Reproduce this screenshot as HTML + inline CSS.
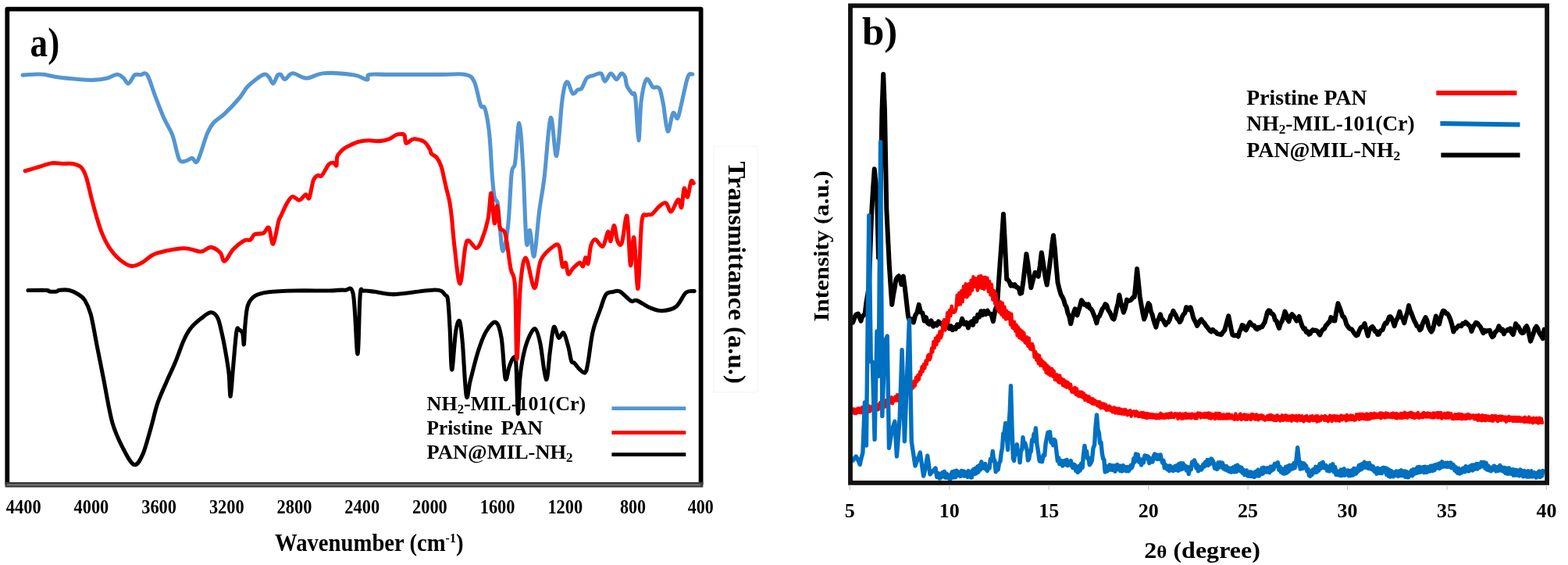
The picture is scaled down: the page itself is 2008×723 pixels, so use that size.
<!DOCTYPE html>
<html><head><meta charset="utf-8"><title>FTIR and XRD</title>
<style>html,body{margin:0;padding:0;background:#fff;} body{width:2008px;height:723px;position:relative;overflow:hidden;}</style>
</head><body>
<svg width="2008" height="723" viewBox="0 0 2008 723" style="position:absolute;left:0;top:0" font-family='"Liberation Serif", "Times New Roman", serif' font-weight="bold">
<rect x="0" y="0" width="2008" height="723" fill="#fff"/>
<rect x="914" y="187" width="56" height="315" fill="none" stroke="#f6f6f6" stroke-width="1.2"/>
<path d="M29.0,96.1 C31.4,95.9 38.8,95.3 43.3,95.2 C47.8,95.1 50.7,94.6 55.8,95.2 C60.9,95.8 66.3,97.8 73.8,98.8 C81.3,99.8 93.1,100.9 100.6,101.5 C108.1,102.1 112.6,102.6 118.6,102.4 C124.6,102.2 131.3,101.4 136.5,100.2 C141.7,99.0 146.3,95.3 149.9,95.2 C153.5,95.1 155.5,97.8 158.0,99.7 C160.5,101.7 162.3,107.5 164.7,106.9 C167.1,106.3 169.8,97.9 172.3,96.1 C174.9,94.2 177.3,95.9 180.0,95.8 C182.7,95.7 185.3,91.1 188.5,95.7 C191.7,100.3 195.4,114.3 199.0,123.6 C202.6,132.9 206.3,143.0 210.0,151.3 C213.7,159.6 217.8,164.7 221.0,173.4 C224.2,182.2 226.7,198.4 229.5,203.8 C232.3,209.2 235.1,206.2 237.8,206.0 C240.6,205.8 243.5,202.4 246.0,202.4 C248.5,202.4 249.8,211.3 253.0,206.0 C256.2,200.7 262.0,178.8 265.5,170.6 C269.0,162.4 270.1,161.0 273.8,156.8 C277.5,152.7 282.1,151.0 287.6,145.7 C293.1,140.4 301.9,131.0 307.0,125.0 C312.1,119.0 312.9,114.7 318.0,109.8 C323.1,104.9 333.0,97.2 337.4,95.4 C341.8,93.6 342.2,96.8 344.3,98.7 C346.4,100.6 348.0,107.4 349.8,107.0 C351.6,106.6 353.8,98.4 355.4,96.5 C357.0,94.6 357.9,94.6 359.5,95.4 C361.1,96.2 362.5,101.8 365.0,101.5 C367.5,101.2 370.1,94.0 374.7,93.7 C379.3,93.5 386.0,100.0 392.7,100.0 C399.4,100.0 404.7,94.4 414.8,93.7 C424.9,93.0 444.3,94.6 453.5,96.0 C462.7,97.4 466.8,102.1 470.0,102.0 C473.2,101.9 468.0,96.5 473.0,95.4 C478.0,94.3 484.6,95.4 500.0,95.4 C515.5,95.4 549.7,95.4 565.7,95.4 C581.7,95.4 589.1,93.9 596.0,95.4 C602.9,96.9 604.0,97.7 607.2,104.2 C610.5,110.8 613.2,128.9 615.5,134.7 C617.8,140.5 619.1,132.8 621.0,138.8 C622.9,144.8 625.0,155.8 626.6,170.6 C628.2,185.4 629.4,213.9 630.5,227.6 C631.6,241.2 632.1,247.0 633.2,252.5 C634.4,258.0 636.2,254.4 637.4,260.8 C638.6,267.2 639.1,281.1 640.2,291.2 C641.3,301.3 642.4,321.8 644.1,321.3 C645.9,320.8 648.9,304.6 650.7,288.0 C652.6,271.4 653.7,235.0 655.2,221.7 C656.7,208.4 658.0,219.1 659.6,208.4 C661.2,197.7 663.2,156.8 664.9,157.5 C666.6,158.2 668.2,187.4 669.8,212.8 C671.3,238.2 672.7,296.6 674.2,310.2 C675.7,323.8 677.0,291.8 678.6,294.7 C680.2,297.6 682.0,331.9 684.0,327.9 C686.0,323.8 688.4,287.4 690.6,270.4 C692.8,253.4 694.8,246.0 697.2,226.1 C699.6,206.2 702.6,155.2 705.2,150.8 C707.8,146.4 710.3,202.4 712.7,199.5 C715.1,196.6 717.6,148.0 719.4,133.1 C721.1,118.2 721.9,114.5 723.2,109.9 C724.5,105.3 725.6,104.1 727.3,105.7 C729.0,107.3 731.4,118.3 733.5,119.8 C735.6,121.3 737.9,116.0 739.8,114.9 C741.7,113.8 742.8,115.7 744.8,113.2 C746.8,110.7 749.0,102.7 751.5,99.9 C754.0,97.1 756.8,97.6 759.8,96.6 C762.8,95.6 767.2,92.8 769.7,94.1 C772.2,95.3 772.6,104.1 774.7,104.1 C776.8,104.1 779.6,94.5 782.1,94.1 C784.6,93.7 787.4,101.6 789.6,101.6 C791.8,101.6 793.6,94.6 795.4,94.1 C797.2,93.5 799.1,95.7 800.4,98.3 C801.6,100.9 801.4,106.3 802.9,109.9 C804.4,113.5 807.7,117.3 809.5,119.8 C811.3,122.3 812.3,114.8 813.7,124.8 C815.1,134.8 816.6,178.8 817.8,179.6 C819.0,180.4 819.4,142.8 821.1,129.8 C822.8,116.8 825.3,104.6 827.8,101.6 C830.3,98.5 833.8,109.8 836.0,111.5 C838.2,113.2 839.5,110.9 841.0,111.5 C842.5,112.1 843.8,111.3 845.2,114.9 C846.6,118.5 847.7,124.2 849.4,133.1 C851.1,141.9 853.1,166.1 855.2,168.0 C857.3,169.9 859.7,147.5 861.8,144.7 C863.9,141.9 865.8,153.3 867.6,151.4 C869.4,149.5 870.4,141.9 872.6,133.1 C874.8,124.2 878.5,104.6 880.9,98.3 C883.2,92.0 885.7,95.5 886.7,95.0" fill="none" stroke="#5495D2" stroke-width="5.1" stroke-linejoin="round" stroke-linecap="round"/>
<path d="M36.0,371.5 C40.0,371.5 55.4,371.2 60.0,371.5 C64.6,371.8 61.4,372.8 63.5,373.0 C65.6,373.2 70.4,373.3 72.5,373.0 C74.6,372.7 73.4,371.6 76.0,371.3 C78.6,371.0 84.0,370.4 88.0,371.3 C92.0,372.2 96.6,374.4 100.0,376.5 C103.4,378.6 105.8,379.7 108.5,384.0 C111.2,388.3 113.5,392.2 116.2,402.1 C118.9,412.0 121.7,429.7 124.4,443.6 C127.2,457.5 129.5,469.1 132.7,485.3 C135.9,501.5 139.7,525.9 143.8,540.6 C148.0,555.4 153.0,564.8 157.6,573.8 C162.2,582.8 167.3,593.1 171.5,594.5 C175.7,595.9 178.8,590.1 182.5,582.1 C186.2,574.1 190.4,557.3 193.6,546.2 C196.8,535.1 198.6,525.3 201.9,515.7 C205.2,506.1 209.6,497.0 213.3,488.4 C217.0,479.8 220.6,472.9 224.3,464.0 C228.0,455.1 232.1,442.7 235.4,435.3 C238.7,427.9 240.6,424.4 244.3,419.8 C248.0,415.2 253.3,410.9 257.5,407.6 C261.7,404.3 266.2,400.0 269.7,399.8 C273.2,399.6 276.2,402.1 278.6,406.5 C281.0,410.9 282.5,419.4 284.1,426.4 C285.8,433.4 287.0,440.0 288.5,448.5 C290.0,457.0 291.9,467.5 293.0,477.3 C294.1,487.1 294.3,508.3 295.2,507.2 C296.1,506.1 297.2,484.5 298.5,470.7 C299.8,456.9 301.6,432.3 302.9,424.2 C304.2,416.1 304.9,421.6 306.2,422.0 C307.5,422.4 309.7,423.3 310.7,426.4 C311.7,429.5 311.8,442.6 312.4,440.8 C312.9,439.0 313.2,423.6 314.0,415.3 C314.8,407.0 315.3,397.1 317.3,391.0 C319.3,384.9 321.8,381.7 326.2,378.8 C330.6,375.9 335.4,374.9 343.9,373.8 C352.4,372.7 364.2,372.3 377.1,372.0 C390.0,371.7 410.6,372.1 421.3,372.0 C432.0,371.9 436.1,370.5 441.3,371.3 C446.5,372.1 449.5,363.0 452.3,376.6 C455.1,390.2 456.4,452.8 457.9,453.0 C459.4,453.2 459.9,391.2 461.2,377.7 C462.5,364.2 462.5,372.9 465.6,372.2 C468.7,371.5 473.4,372.6 480.0,373.3 C486.6,374.0 492.0,377.0 504.9,376.6 C517.8,376.2 546.5,370.9 557.4,371.0 C568.2,371.1 567.3,375.1 570.0,377.4 C572.7,379.7 572.7,377.4 573.7,384.9 C574.7,392.4 575.4,407.5 576.2,422.2 C577.0,436.9 577.5,472.8 578.7,473.2 C579.9,473.6 582.0,435.1 583.6,424.7 C585.2,414.3 587.1,408.5 588.6,411.0 C590.1,413.5 591.0,423.6 592.4,439.6 C593.8,455.6 595.6,498.9 597.3,506.8 C598.9,514.7 599.8,496.4 602.3,486.9 C604.8,477.4 609.0,460.0 612.3,449.6 C615.6,439.2 618.5,430.9 622.2,424.7 C625.9,418.5 631.4,411.1 634.7,412.3 C638.0,413.6 640.0,420.2 642.1,432.2 C644.2,444.2 645.4,478.2 647.1,484.4 C648.8,490.6 650.4,473.9 652.1,469.5 C653.8,465.1 655.7,459.1 657.1,458.3 C658.5,457.5 659.8,452.7 660.8,464.5 C661.8,476.3 662.5,525.9 663.3,529.2 C664.1,532.5 664.5,497.2 665.8,484.4 C667.0,471.5 668.7,461.2 670.8,452.1 C672.9,443.0 675.7,434.9 678.2,429.7 C680.7,424.5 683.4,419.4 685.7,421.0 C688.0,422.6 689.6,428.8 691.9,439.6 C694.2,450.4 697.3,484.0 699.4,485.7 C701.5,487.4 702.8,460.8 704.4,449.6 C706.0,438.4 707.4,421.4 709.3,418.5 C711.1,415.6 713.4,430.9 715.5,432.2 C717.6,433.4 719.7,423.9 721.8,426.0 C723.9,428.1 726.4,438.6 728.0,444.6 C729.6,450.6 730.5,458.7 731.7,462.0 C733.0,465.3 733.8,462.8 735.5,464.5 C737.2,466.2 739.4,469.9 741.7,472.0 C744.0,474.1 747.2,478.2 749.1,477.0 C751.0,475.8 751.2,473.2 752.9,464.5 C754.6,455.8 756.5,436.1 759.1,424.7 C761.7,413.3 765.9,403.9 768.7,396.0 C771.5,388.1 773.2,380.8 775.9,377.0 C778.6,373.2 782.0,374.2 785.0,373.5 C788.0,372.8 789.9,371.1 793.8,373.0 C797.7,374.9 804.6,383.3 808.2,385.2 C811.8,387.1 811.2,383.0 815.4,384.5 C819.6,386.0 828.0,392.0 833.4,394.2 C838.8,396.4 842.4,398.1 847.8,397.8 C853.2,397.5 860.7,396.3 865.8,392.4 C870.9,388.5 874.5,377.7 878.4,374.4 C882.3,371.1 887.4,372.9 889.2,372.6" fill="none" stroke="#000" stroke-width="5.1" stroke-linejoin="round" stroke-linecap="round"/>
<path d="M32.2,218.8 C35.2,217.9 44.3,215.2 50.0,213.5 C55.7,211.8 61.5,209.5 66.5,208.8 C71.5,208.1 75.6,209.4 80.0,209.5 C84.4,209.6 89.0,208.7 93.0,209.5 C97.0,210.3 101.1,211.3 104.1,214.3 C107.0,217.3 108.5,220.9 110.7,227.6 C112.9,234.2 115.1,245.7 117.3,254.2 C119.5,262.7 121.8,271.1 124.0,278.5 C126.2,285.9 128.0,292.1 130.6,298.4 C133.2,304.7 135.8,310.6 139.5,316.1 C143.2,321.6 147.9,327.6 152.7,331.6 C157.5,335.7 163.2,339.7 168.2,340.4 C173.2,341.1 177.3,338.3 182.5,335.7 C187.7,333.1 190.3,327.7 199.1,324.7 C207.8,321.7 225.3,318.2 235.0,317.8 C244.7,317.4 251.4,322.2 257.2,322.0 C263.0,321.8 265.5,316.2 269.6,316.4 C273.7,316.6 279.0,320.3 282.0,323.3 C285.0,326.3 284.8,335.0 287.6,334.3 C290.4,333.6 294.6,323.5 298.7,319.1 C302.8,314.7 308.8,310.1 312.5,308.0 C316.2,305.9 318.5,308.1 320.8,306.7 C323.1,305.3 323.5,301.2 326.3,299.8 C329.1,298.4 334.4,299.8 337.4,298.4 C340.4,297.0 342.2,289.2 344.3,291.5 C346.4,293.8 347.7,313.6 349.8,312.2 C351.9,310.8 355.0,289.3 356.7,283.2 C358.4,277.1 358.2,279.6 360.0,275.8 C361.8,272.0 364.8,264.6 367.2,260.6 C369.6,256.6 371.7,252.3 374.4,251.6 C377.1,250.8 380.5,256.6 383.4,256.1 C386.2,255.7 389.4,249.4 391.5,248.9 C393.6,248.4 394.4,256.4 396.0,253.4 C397.6,250.4 399.5,235.7 401.3,230.9 C403.1,226.1 404.9,225.7 406.7,224.6 C408.5,223.5 409.7,227.0 412.1,224.6 C414.5,222.2 418.6,212.9 421.1,210.2 C423.7,207.5 425.8,208.1 427.4,208.4 C429.0,208.7 430.2,213.3 431.0,212.0 C431.8,210.7 430.5,203.8 431.9,200.3 C433.2,196.9 436.4,193.7 439.1,191.3 C441.8,188.9 444.8,187.6 448.1,186.0 C451.4,184.4 455.0,182.6 458.9,181.5 C462.8,180.4 467.0,179.8 471.5,179.7 C476.0,179.5 481.3,180.9 485.8,180.6 C490.3,180.3 494.8,179.2 498.4,177.9 C502.0,176.6 504.7,173.6 507.4,172.5 C510.1,171.4 512.8,171.4 514.6,171.6 C516.4,171.8 517.3,171.4 518.2,173.4 C519.1,175.4 518.5,182.4 520.0,183.3 C521.5,184.2 525.1,179.7 527.2,178.8 C529.3,177.9 529.9,177.5 532.6,177.9 C535.3,178.3 540.4,179.3 543.4,181.5 C546.4,183.7 549.1,188.8 550.6,191.3 C552.1,193.8 550.9,194.9 552.4,196.7 C553.9,198.5 557.5,199.4 559.6,202.1 C561.7,204.8 563.5,208.7 565.0,212.9 C566.5,217.1 567.5,222.8 568.5,227.3 C569.5,231.8 570.1,234.8 571.3,239.9 C572.5,245.0 574.5,251.6 575.7,257.9 C576.9,264.2 577.3,267.9 578.4,277.6 C579.5,287.3 580.3,301.9 582.1,316.1 C583.9,330.4 586.7,363.1 589.0,363.1 C591.3,363.1 594.0,325.3 595.9,316.1 C597.8,306.9 597.8,307.6 600.1,307.8 C602.4,308.0 607.0,317.5 609.8,317.5 C612.6,317.5 614.2,314.0 616.7,307.8 C619.2,301.6 622.9,290.3 625.0,280.2 C627.1,270.1 627.7,246.1 629.1,247.0 C630.5,247.9 631.9,282.9 633.2,285.7 C634.5,288.5 635.6,262.7 636.8,263.6 C638.0,264.5 638.5,285.2 640.2,291.2 C641.9,297.2 644.8,290.8 647.1,299.5 C649.4,308.2 651.9,332.6 654.0,343.7 C656.1,354.8 658.2,346.4 659.5,365.8 C660.8,385.2 660.9,460.0 662.0,460.0 C663.1,460.0 664.5,387.5 666.4,365.8 C668.3,344.1 670.3,329.4 673.3,329.9 C676.3,330.4 681.2,368.1 684.4,368.6 C687.6,369.1 688.6,341.7 692.7,332.7 C696.9,323.7 705.4,317.5 709.3,314.7 C713.2,311.9 714.4,311.7 716.2,316.1 C718.0,320.5 718.9,337.6 720.3,341.0 C721.7,344.4 723.2,334.6 724.4,336.2 C725.6,337.8 726.2,349.3 727.7,350.6 C729.2,351.9 730.9,346.4 733.3,344.0 C735.7,341.6 739.9,336.8 742.1,336.2 C744.3,335.6 745.3,341.8 746.6,340.7 C747.9,339.6 748.8,330.2 749.9,329.6 C751.0,329.0 752.1,339.7 753.2,337.3 C754.3,334.9 755.0,320.4 756.5,315.2 C758.0,310.0 759.5,306.3 762.1,306.3 C764.7,306.3 769.2,316.9 772.0,315.2 C774.8,313.5 777.0,297.5 778.7,296.4 C780.4,295.3 780.7,309.9 782.0,308.6 C783.3,307.3 784.9,288.6 786.4,288.6 C787.9,288.6 789.1,304.9 790.8,308.6 C792.5,312.3 794.4,316.2 796.4,310.8 C798.4,305.4 801.2,271.7 803.0,276.5 C804.8,281.3 805.9,334.9 807.4,339.5 C808.9,344.1 810.3,299.1 811.9,304.1 C813.5,309.1 815.4,372.7 817.0,369.4 C818.6,366.1 819.9,299.9 821.8,284.2 C823.7,268.5 826.3,277.0 828.5,275.3 C830.7,273.6 832.5,275.8 835.1,274.0 C837.7,272.2 841.0,266.7 844.0,264.3 C847.0,261.9 850.2,258.7 852.8,259.8 C855.4,260.9 856.9,271.6 859.5,270.9 C862.1,270.2 866.1,256.3 868.3,255.4 C870.5,254.5 871.5,267.8 872.8,265.4 C874.1,263.0 874.8,243.2 876.1,241.0 C877.4,238.8 879.0,253.6 880.5,252.1 C882.0,250.6 883.6,235.1 884.9,232.2 C886.2,229.2 887.7,234.0 888.3,234.4" fill="none" stroke="#FF0000" stroke-width="5.1" stroke-linejoin="round" stroke-linecap="round"/>
<path d="M9.3,620.5 V11.6 H897.6 V620.5" fill="none" stroke="#000" stroke-width="5.8" stroke-linejoin="round"/>
<rect x="6.6" y="617" width="893.7" height="6.6" fill="#3c3c3c"/>
<rect x="9" y="619.8" width="888" height="1.3" fill="#8e8e8e"/>
<text x="38.6" y="72.3" font-size="53" textLength="37.6" lengthAdjust="spacingAndGlyphs">a)</text>
<text x="546.6" y="524.5" font-size="25" textLength="203.6" lengthAdjust="spacingAndGlyphs">NH<tspan font-size="16" dy="4">2</tspan><tspan dy="-4">-MIL-101(Cr)</tspan></text>
<text x="546.6" y="555.8" font-size="25" textLength="84.4" lengthAdjust="spacingAndGlyphs">Pristine</text>
<text x="641.5" y="555.8" font-size="25" textLength="53.4" lengthAdjust="spacingAndGlyphs">PAN</text>
<text x="546.6" y="587.1" font-size="25" textLength="187" lengthAdjust="spacingAndGlyphs">PAN@MIL-NH<tspan font-size="16" dy="4">2</tspan></text>
<line x1="783.4" y1="522.6" x2="878.3" y2="522.6" stroke="#5495D2" stroke-width="4.6"/>
<line x1="783.4" y1="553.6" x2="878.3" y2="553.6" stroke="#FF0000" stroke-width="4.6"/>
<line x1="783.4" y1="581.6" x2="878.3" y2="581.6" stroke="#000" stroke-width="4.6"/>
<text x="7.8" y="656.8" font-size="24.5" textLength="44.8" lengthAdjust="spacingAndGlyphs">4400</text>
<text x="94.5" y="656.8" font-size="24.5" textLength="44.8" lengthAdjust="spacingAndGlyphs">4000</text>
<text x="181.2" y="656.8" font-size="24.5" textLength="44.8" lengthAdjust="spacingAndGlyphs">3600</text>
<text x="267.9" y="656.8" font-size="24.5" textLength="44.8" lengthAdjust="spacingAndGlyphs">3200</text>
<text x="354.6" y="656.8" font-size="24.5" textLength="44.8" lengthAdjust="spacingAndGlyphs">2800</text>
<text x="441.3" y="656.8" font-size="24.5" textLength="44.8" lengthAdjust="spacingAndGlyphs">2400</text>
<text x="528.0" y="656.8" font-size="24.5" textLength="44.8" lengthAdjust="spacingAndGlyphs">2000</text>
<text x="614.7" y="656.8" font-size="24.5" textLength="44.8" lengthAdjust="spacingAndGlyphs">1600</text>
<text x="701.4" y="656.8" font-size="24.5" textLength="44.8" lengthAdjust="spacingAndGlyphs">1200</text>
<text x="794.0" y="656.8" font-size="24.5" textLength="33" lengthAdjust="spacingAndGlyphs">800</text>
<text x="880.7" y="656.8" font-size="24.5" textLength="33" lengthAdjust="spacingAndGlyphs">400</text>
<text x="352.1" y="705.2" font-size="30.5" textLength="241.4" lengthAdjust="spacingAndGlyphs">Wavenumber (cm<tspan font-size="17" dy="-11">-1</tspan><tspan dy="11">)</tspan></text>
<text transform="translate(932.6,206.6) rotate(90)" x="0" y="0" font-size="30.5" textLength="284.2" lengthAdjust="spacingAndGlyphs">Transmittance (a.u.)</text>
<polyline points="1092.1,412.6 1093.8,408.2 1095.6,403.2 1097.3,402.1 1099.0,401.5 1100.8,406.3 1102.5,410.8 1104.2,404.7 1106.0,403.7 1107.7,401.1 1109.4,387.2 1111.1,377.0 1112.8,366.8 1114.5,317.4 1116.3,270.1 1118.0,241.9 1119.8,216.3 1121.5,234.7 1123.2,255.3 1125.0,329.7 1127.5,250.4 1129.5,141.1 1131.2,95.0 1133.0,141.0 1135.3,267.6 1137.0,302.9 1138.8,339.0 1140.5,365.2 1142.2,389.9 1143.9,378.2 1145.7,368.5 1147.4,357.8 1149.2,354.7 1150.9,353.3 1152.6,356.1 1154.3,364.0 1156.8,353.6 1158.9,368.8 1163.0,404.8 1165.3,411.7 1167.6,408.3 1169.9,412.6 1172.2,403.3 1174.5,399.8 1176.8,389.9 1179.1,399.6 1181.4,400.6 1183.7,410.6 1185.8,406.1 1187.9,413.3 1190.0,414.9 1192.5,410.3 1195.1,417.6 1197.6,414.1 1199.7,416.4 1201.9,411.4 1204.0,413.9 1206.5,415.4 1208.9,411.6 1211.4,418.7 1213.5,415.7 1215.6,420.4 1217.6,417.1 1219.7,422.2 1221.8,419.1 1223.9,420.8 1225.9,415.3 1228.0,417.7 1230.0,415.0 1232.1,407.8 1234.7,414.7 1237.4,412.7 1240.0,419.4 1242.0,413.1 1244.0,411.5 1246.0,415.8 1248.1,407.6 1250.1,411.2 1252.2,402.7 1254.2,405.5 1256.3,398.2 1258.4,403.0 1260.5,398.2 1262.5,402.2 1264.6,397.6 1266.7,401.4 1269.3,401.7 1271.9,411.3 1274.5,396.7 1277.1,390.1 1278.8,363.3 1280.6,337.3 1282.8,307.3 1285.0,274.0 1287.1,313.9 1289.2,357.5 1290.9,358.1 1292.7,360.8 1294.4,365.6 1296.1,364.1 1297.8,365.8 1299.6,364.2 1301.3,367.4 1303.0,367.6 1304.8,369.4 1306.5,375.6 1308.2,375.0 1310.3,360.8 1312.3,343.7 1314.4,324.9 1316.4,337.5 1318.3,352.7 1320.3,368.2 1322.0,361.4 1323.8,354.8 1325.5,348.7 1327.6,350.4 1329.7,353.7 1331.8,340.1 1333.8,323.2 1335.5,333.4 1337.2,345.7 1339.0,356.6 1340.7,364.5 1342.4,352.7 1344.0,340.5 1345.7,327.4 1347.3,312.6 1349.0,301.3 1350.9,318.7 1352.7,341.2 1354.6,361.7 1356.7,370.4 1358.7,377.2 1360.4,379.7 1362.2,383.7 1363.9,389.8 1365.6,392.5 1367.5,400.8 1369.3,405.1 1371.2,414.3 1373.0,406.6 1374.9,400.2 1376.7,395.3 1379.5,403.3 1381.3,397.7 1383.2,391.1 1385.0,384.2 1386.8,386.6 1388.5,389.7 1390.3,389.2 1392.1,392.0 1393.9,389.5 1395.6,394.6 1397.4,395.4 1399.1,398.5 1400.8,402.9 1402.6,407.4 1404.3,413.4 1406.2,406.1 1408.0,404.5 1409.8,400.2 1411.7,395.3 1413.6,393.1 1415.4,389.2 1417.2,390.4 1419.1,396.5 1421.0,399.2 1422.8,403.0 1424.7,407.3 1426.5,408.6 1428.2,402.9 1430.0,394.0 1431.7,388.1 1433.4,377.5 1435.2,386.8 1437.1,393.3 1438.9,399.8 1441.0,393.9 1443.1,383.6 1444.7,385.2 1446.3,384.6 1447.9,384.2 1449.5,382.4 1451.1,380.4 1452.7,380.2 1454.4,363.8 1456.1,344.1 1457.9,361.0 1459.7,379.4 1461.5,390.0 1463.4,400.4 1465.2,408.5 1467.0,403.7 1468.9,394.1 1470.7,388.0 1472.3,390.0 1473.9,398.8 1475.6,402.5 1477.2,409.1 1478.8,414.2 1480.4,418.6 1482.2,411.1 1484.1,407.5 1485.9,402.4 1487.6,408.1 1489.3,409.2 1491.1,412.7 1492.8,415.7 1494.4,412.6 1496.0,412.6 1497.7,409.6 1499.3,403.9 1500.9,402.2 1502.5,397.9 1504.2,401.1 1505.8,403.6 1507.5,407.7 1509.1,409.1 1510.8,412.2 1512.5,409.7 1514.1,404.8 1515.8,402.2 1517.4,400.6 1519.1,393.3 1520.9,393.6 1522.8,396.4 1524.6,393.4 1526.3,398.9 1528.0,406.0 1529.6,409.7 1531.3,412.9 1533.0,416.9 1534.8,414.1 1536.7,410.5 1538.5,408.8 1540.3,411.8 1542.2,413.4 1544.0,416.2 1545.8,418.6 1547.7,420.7 1549.5,423.2 1551.3,424.4 1553.1,421.8 1554.9,423.7 1556.6,424.4 1558.4,426.8 1560.2,427.4 1562.0,427.8 1564.1,428.2 1566.2,424.9 1568.3,422.6 1570.0,416.3 1571.6,410.4 1573.3,404.3 1575.0,412.7 1576.6,420.8 1578.3,428.3 1580.2,429.4 1582.0,429.3 1583.8,428.9 1585.7,430.6 1587.4,424.2 1589.0,421.3 1590.7,416.1 1592.4,416.6 1594.0,421.0 1595.7,422.4 1597.4,418.9 1599.0,415.6 1600.7,412.3 1602.5,415.0 1604.3,416.6 1606.2,416.6 1608.0,420.1 1609.8,421.4 1611.5,418.9 1613.1,419.7 1614.8,418.0 1616.4,418.3 1618.1,414.8 1619.8,412.1 1621.4,406.0 1623.0,399.6 1624.7,397.3 1626.4,397.9 1628.0,401.2 1629.7,401.6 1631.3,403.7 1633.0,409.7 1634.7,410.6 1636.3,415.5 1638.0,420.0 1639.9,413.9 1641.8,410.9 1643.6,405.8 1645.5,398.6 1647.2,402.0 1648.8,408.4 1650.5,411.3 1652.5,404.9 1654.6,402.2 1656.5,404.1 1658.5,407.1 1660.4,410.6 1662.1,408.3 1663.7,405.0 1665.6,411.5 1667.6,417.2 1669.5,420.8 1671.2,420.4 1672.8,424.9 1674.5,424.1 1676.2,427.8 1677.9,426.9 1679.5,423.7 1681.2,422.1 1683.0,423.0 1684.8,422.6 1686.7,423.5 1688.5,426.2 1690.3,428.6 1692.2,424.1 1694.2,421.7 1696.1,420.6 1697.8,416.7 1699.4,415.4 1701.1,412.8 1702.7,412.0 1704.4,406.1 1706.1,407.3 1707.7,410.2 1709.4,410.4 1711.5,398.1 1713.5,388.3 1715.4,393.0 1717.4,398.8 1719.3,404.6 1721.0,405.6 1722.7,409.3 1724.3,415.0 1726.0,417.7 1727.7,419.9 1729.3,421.1 1731.0,421.3 1732.9,424.3 1734.9,427.3 1736.8,429.4 1738.7,428.6 1740.7,423.1 1742.6,419.5 1744.3,418.2 1745.9,417.6 1747.6,414.0 1749.7,422.5 1751.7,429.8 1753.6,422.4 1755.6,419.6 1757.5,417.9 1759.2,420.3 1760.8,424.0 1762.4,423.7 1764.1,428.0 1765.8,427.7 1767.4,424.1 1769.1,422.6 1770.7,421.9 1772.4,416.7 1774.1,413.4 1775.7,413.8 1777.4,409.9 1779.0,405.5 1780.7,405.2 1782.4,407.7 1784.0,411.8 1785.7,417.2 1787.4,411.4 1789.1,408.1 1790.7,404.8 1792.4,398.7 1794.4,406.0 1796.3,407.5 1798.3,413.3 1800.2,405.7 1802.2,400.0 1804.1,391.0 1805.7,397.0 1807.4,400.6 1809.0,405.0 1810.8,409.7 1812.7,413.1 1814.5,417.3 1816.4,417.9 1818.2,422.4 1820.0,420.6 1821.9,414.2 1823.8,409.6 1825.6,406.2 1827.5,410.0 1829.3,417.6 1831.2,421.8 1833.1,424.6 1835.0,421.2 1837.0,412.5 1838.9,404.5 1841.0,409.7 1843.1,414.8 1844.7,407.7 1846.4,401.7 1848.0,397.7 1849.9,398.2 1851.8,401.1 1853.6,401.2 1855.5,404.4 1857.4,409.0 1859.4,415.5 1861.3,424.5 1863.0,421.4 1864.6,420.5 1866.3,418.5 1867.9,416.7 1869.6,416.8 1871.4,417.2 1873.2,414.1 1875.1,414.3 1876.9,412.2 1878.7,413.8 1880.6,415.9 1882.6,417.4 1884.5,423.9 1886.4,419.0 1888.2,415.7 1890.1,412.9 1892.0,413.5 1893.9,416.3 1895.8,418.2 1897.6,422.3 1899.5,426.2 1901.2,422.7 1902.8,424.2 1904.4,423.2 1906.1,423.1 1907.8,422.8 1909.4,428.2 1911.1,431.2 1912.8,429.9 1914.4,425.4 1916.1,423.9 1917.7,422.2 1919.4,417.4 1921.1,419.9 1922.7,423.3 1924.3,421.7 1926.0,427.3 1927.7,423.7 1929.3,423.2 1931.0,421.6 1932.6,422.6 1934.3,420.5 1936.0,426.0 1937.7,428.0 1939.3,422.8 1941.0,414.3 1942.7,416.7 1944.3,417.9 1946.0,421.0 1947.6,424.7 1949.3,426.2 1951.2,425.6 1953.2,419.3 1955.1,417.3 1956.7,420.9 1958.4,429.4 1960.0,436.6 1961.9,431.6 1963.8,426.4 1965.6,420.4 1967.5,417.7 1969.2,420.2 1970.8,425.1 1972.5,427.8 1974.1,430.4 1975.8,433.1 1977.5,421.6" fill="none" stroke="#000" stroke-width="6" stroke-linejoin="round" stroke-linecap="round"/>
<polyline points="1093.0,523.3 1094.2,529.0 1095.5,523.9 1096.7,529.1 1097.9,523.2 1099.1,522.5 1100.4,527.8 1101.6,522.7 1102.8,528.2 1104.0,521.1 1105.3,526.1 1106.5,521.0 1107.7,525.6 1108.9,526.4 1110.2,519.7 1111.4,527.0 1112.6,519.5 1113.8,526.6 1115.1,524.6 1116.3,520.1 1117.5,519.5 1118.7,524.5 1120.0,519.2 1121.2,524.7 1122.4,517.3 1123.6,524.4 1124.8,524.0 1126.0,517.3 1127.2,515.0 1128.5,515.3 1129.7,520.2 1130.9,514.2 1132.1,518.9 1133.3,520.5 1134.5,512.1 1135.7,517.5 1136.9,511.0 1138.1,512.2 1139.3,515.7 1140.5,510.5 1141.8,508.4 1143.0,516.4 1144.2,509.4 1145.4,513.1 1146.6,507.6 1147.8,512.4 1149.1,505.1 1150.3,512.8 1151.6,510.7 1152.9,503.6 1154.1,509.7 1155.4,501.8 1156.7,501.3 1157.9,507.8 1159.2,500.2 1160.5,498.9 1161.7,503.7 1163.0,497.1 1164.3,502.9 1165.5,494.9 1166.8,499.0 1168.0,490.5 1169.3,496.4 1170.5,487.8 1171.8,493.7 1173.0,483.0 1174.3,488.4 1175.5,479.9 1176.8,485.8 1178.1,475.4 1179.3,479.3 1180.6,469.3 1181.8,475.3 1183.1,466.0 1184.3,471.3 1185.6,461.5 1186.8,466.2 1188.1,455.4 1189.3,453.9 1190.6,460.4 1191.8,456.9 1193.0,445.8 1194.2,450.5 1195.4,437.3 1196.6,445.4 1198.0,432.8 1199.4,441.1 1200.8,429.4 1202.1,436.3 1203.5,424.1 1204.9,432.3 1206.3,428.1 1207.7,412.8 1209.1,409.3 1210.4,422.5 1211.8,416.1 1213.2,400.1 1214.6,411.8 1216.0,397.0 1217.3,404.4 1218.7,391.7 1220.1,399.1 1221.5,399.8 1222.9,399.0 1224.3,395.4 1225.7,377.7 1227.0,390.0 1228.4,374.7 1229.8,389.6 1231.2,372.1 1232.6,386.3 1233.9,366.5 1235.3,379.7 1236.7,363.2 1238.1,380.2 1239.5,378.8 1240.9,363.2 1242.2,376.3 1243.6,358.6 1245.0,371.5 1246.4,354.3 1247.8,366.8 1249.2,356.2 1250.6,367.0 1251.9,371.6 1253.3,353.7 1254.7,368.3 1256.1,352.9 1257.5,368.7 1258.8,354.9 1260.2,370.0 1261.6,354.8 1263.0,367.9 1264.4,355.8 1265.8,373.3 1267.2,360.2 1268.5,377.5 1269.9,364.2 1271.3,383.5 1272.7,371.8 1274.1,388.6 1275.4,376.3 1276.8,394.7 1278.2,394.6 1279.6,399.4 1281.0,386.1 1282.4,402.9 1283.8,387.6 1285.1,405.5 1286.5,392.8 1287.9,408.5 1289.1,397.8 1290.3,407.7 1291.6,400.0 1292.8,400.7 1294.0,415.5 1295.2,401.6 1296.5,419.3 1297.7,420.0 1298.9,411.6 1300.1,423.6 1301.4,415.3 1302.6,429.3 1303.8,418.5 1305.1,432.0 1306.3,421.8 1307.6,433.6 1308.9,423.6 1310.1,435.3 1311.4,426.2 1312.6,438.2 1313.9,439.2 1315.2,431.3 1316.4,443.1 1317.7,432.6 1319.1,446.5 1320.5,447.1 1321.8,439.9 1323.2,443.6 1324.6,457.1 1326.0,450.0 1327.2,460.7 1328.5,453.4 1329.7,465.1 1331.0,455.0 1332.2,467.8 1333.4,459.9 1334.7,468.1 1335.9,462.7 1337.2,472.3 1338.4,464.7 1339.7,477.0 1340.9,467.5 1342.2,478.5 1343.4,469.8 1344.7,480.2 1345.9,480.2 1347.2,471.8 1348.4,481.7 1349.7,474.7 1350.9,486.0 1352.2,484.8 1353.5,479.3 1354.7,488.1 1356.0,489.5 1357.2,480.4 1358.5,490.0 1359.7,484.6 1361.0,493.0 1362.2,485.8 1363.5,494.4 1364.7,487.8 1366.0,495.7 1367.3,489.1 1368.6,490.7 1369.9,497.6 1371.2,492.0 1372.5,501.6 1373.8,500.5 1375.1,502.2 1376.4,495.8 1377.7,504.7 1379.0,497.3 1380.3,506.4 1381.6,506.9 1382.9,501.5 1384.2,507.6 1385.5,501.7 1386.8,508.7 1388.1,503.4 1389.4,512.0 1390.7,506.2 1391.9,506.9 1393.2,513.7 1394.5,507.4 1395.8,514.5 1397.1,509.8 1398.4,516.5 1399.7,510.4 1400.9,517.1 1402.2,512.3 1403.5,513.8 1404.7,518.8 1406.0,514.2 1407.2,520.2 1408.4,514.3 1409.7,522.2 1410.9,516.5 1412.2,521.6 1413.4,516.6 1414.6,522.8 1415.9,517.6 1417.1,525.0 1418.3,519.8 1419.6,524.5 1420.8,519.6 1422.1,525.3 1423.3,521.5 1424.6,527.3 1425.8,526.6 1427.0,521.3 1428.3,528.5 1429.5,522.6 1430.8,522.6 1432.0,529.0 1433.3,522.7 1434.5,529.2 1435.8,524.0 1437.1,529.7 1438.4,524.4 1439.7,530.0 1441.0,523.9 1442.2,525.9 1443.5,531.2 1444.8,525.9 1446.1,530.5 1447.4,525.2 1448.7,532.7 1450.0,527.4 1451.3,526.6 1452.6,526.5 1453.9,532.3 1455.2,526.4 1456.5,527.6 1457.8,533.1 1459.0,528.7 1460.3,532.8 1461.6,528.1 1462.9,533.8 1464.2,528.1 1465.5,534.0 1466.7,528.9 1468.0,535.1 1469.2,529.2 1470.4,534.6 1471.6,529.7 1472.9,534.2 1474.1,530.1 1475.3,534.4 1476.5,530.3 1477.8,534.5 1479.0,530.7 1480.2,535.3 1481.5,530.8 1482.7,535.1 1483.9,530.7 1485.2,535.1 1486.4,528.8 1487.6,534.4 1488.9,530.4 1490.1,534.9 1491.4,530.6 1492.6,534.7 1493.8,529.7 1495.1,530.0 1496.3,534.6 1497.5,529.3 1498.8,534.2 1500.0,528.6 1501.2,534.0 1502.4,530.4 1503.6,534.1 1504.8,529.2 1506.1,530.1 1507.3,529.5 1508.5,535.9 1509.7,534.0 1510.9,529.2 1512.1,530.3 1513.3,535.7 1514.5,529.7 1515.8,535.3 1517.0,534.2 1518.2,528.9 1519.4,535.0 1520.6,534.6 1521.8,529.9 1523.0,534.8 1524.2,530.1 1525.5,535.1 1526.7,529.6 1527.9,534.1 1529.1,530.3 1530.3,535.4 1531.5,530.2 1532.7,535.5 1533.9,528.5 1535.2,529.4 1536.4,528.8 1537.6,534.5 1538.8,529.5 1540.0,530.1 1541.2,534.0 1542.4,529.0 1543.6,533.9 1544.8,529.1 1546.1,533.9 1547.3,528.5 1548.5,535.1 1549.7,528.9 1550.9,535.6 1552.1,530.2 1553.3,534.2 1554.5,530.4 1555.8,536.1 1557.0,528.8 1558.2,535.1 1559.4,529.0 1560.6,535.6 1561.8,529.0 1563.0,535.5 1564.2,530.7 1565.5,535.6 1566.7,530.5 1567.9,535.4 1569.1,530.9 1570.3,535.5 1571.5,529.9 1572.7,535.4 1573.9,529.9 1575.2,535.3 1576.4,535.3 1577.6,531.1 1578.8,535.0 1580.0,536.2 1581.2,536.8 1582.4,529.4 1583.6,535.7 1584.8,536.7 1586.1,535.9 1587.3,530.7 1588.5,529.6 1589.7,537.0 1590.9,531.4 1592.1,535.7 1593.3,530.4 1594.5,536.7 1595.8,530.9 1597.0,536.8 1598.2,531.2 1599.4,535.9 1600.6,531.7 1601.8,537.0 1603.0,529.9 1604.2,530.2 1605.5,535.8 1606.7,531.1 1607.9,536.7 1609.1,530.4 1610.3,536.6 1611.5,537.3 1612.7,531.8 1613.9,535.7 1615.2,531.2 1616.4,536.1 1617.6,532.0 1618.8,536.8 1620.0,537.6 1621.2,536.0 1622.4,532.5 1623.6,536.7 1624.8,531.5 1626.1,536.8 1627.3,531.0 1628.5,536.7 1629.7,531.9 1630.9,537.7 1632.1,538.0 1633.3,532.6 1634.5,538.0 1635.8,531.3 1637.0,537.0 1638.2,533.0 1639.4,538.4 1640.6,537.6 1641.8,531.3 1643.0,537.9 1644.2,532.2 1645.5,537.1 1646.7,531.3 1647.9,537.7 1649.1,532.5 1650.3,537.8 1651.5,537.3 1652.7,532.5 1653.9,538.8 1655.2,531.7 1656.4,537.2 1657.6,532.6 1658.8,537.8 1660.0,531.9 1661.2,538.6 1662.4,532.8 1663.6,531.9 1664.8,537.7 1666.0,537.7 1667.2,532.2 1668.4,537.9 1669.6,539.4 1670.8,533.2 1672.0,537.7 1673.2,532.0 1674.4,538.0 1675.6,533.9 1676.8,539.1 1678.0,532.8 1679.2,537.6 1680.4,532.2 1681.6,538.2 1682.8,533.7 1684.0,537.8 1685.2,532.3 1686.4,539.6 1687.6,532.3 1688.8,539.1 1690.0,534.3 1691.2,538.1 1692.4,532.6 1693.6,534.2 1694.8,533.1 1696.0,537.8 1697.2,532.1 1698.4,537.8 1699.6,533.8 1700.8,539.3 1702.0,533.5 1703.2,531.8 1704.4,533.3 1705.6,539.2 1706.8,532.3 1708.0,537.2 1709.2,532.1 1710.4,538.3 1711.6,532.5 1712.8,538.1 1714.0,533.1 1715.2,538.8 1716.4,533.0 1717.6,531.6 1718.8,537.3 1720.0,533.2 1721.2,532.4 1722.4,532.9 1723.6,538.3 1724.8,530.9 1726.1,537.4 1727.3,532.6 1728.5,537.1 1729.7,531.4 1730.9,537.0 1732.1,531.8 1733.3,537.1 1734.5,537.7 1735.8,537.4 1737.0,530.1 1738.2,535.7 1739.4,530.5 1740.6,536.7 1741.8,529.8 1743.0,536.2 1744.2,529.8 1745.5,530.5 1746.7,536.2 1747.9,530.5 1749.1,536.4 1750.3,529.5 1751.5,536.6 1752.7,530.6 1753.9,536.3 1755.2,529.1 1756.4,535.0 1757.6,529.7 1758.8,534.9 1760.0,528.8 1761.2,534.3 1762.4,529.8 1763.6,534.2 1764.8,529.8 1766.1,533.9 1767.3,528.5 1768.5,535.3 1769.7,528.6 1770.9,529.4 1772.1,534.0 1773.3,534.5 1774.5,528.4 1775.8,534.0 1777.0,528.9 1778.2,533.6 1779.4,530.1 1780.6,533.9 1781.8,529.2 1783.0,534.3 1784.2,528.6 1785.5,533.6 1786.7,534.8 1787.9,529.0 1789.1,535.4 1790.3,529.8 1791.5,534.1 1792.7,534.9 1793.9,528.9 1795.2,535.0 1796.4,528.9 1797.6,534.4 1798.8,527.7 1800.0,534.2 1801.2,529.1 1802.4,534.8 1803.7,529.0 1804.9,528.3 1806.1,533.5 1807.3,527.8 1808.5,534.2 1809.8,528.9 1811.0,535.0 1812.2,534.7 1813.4,529.6 1814.6,533.8 1815.9,527.9 1817.1,534.9 1818.3,533.4 1819.5,534.0 1820.7,529.4 1822.0,534.3 1823.2,528.0 1824.4,533.4 1825.6,529.0 1826.8,533.8 1828.0,528.4 1829.3,533.5 1830.5,529.0 1831.7,533.8 1832.9,529.5 1834.1,534.6 1835.4,528.4 1836.6,534.5 1837.8,528.7 1839.0,533.5 1840.2,528.2 1841.5,534.6 1842.7,528.1 1843.9,533.9 1845.1,528.0 1846.3,535.6 1847.6,529.7 1848.8,534.2 1850.0,528.9 1851.2,534.7 1852.4,534.7 1853.6,528.5 1854.8,534.8 1856.1,528.7 1857.3,534.1 1858.5,529.4 1859.7,536.0 1860.9,535.3 1862.1,536.0 1863.3,530.3 1864.5,535.8 1865.8,530.3 1867.0,535.7 1868.2,529.7 1869.4,535.5 1870.6,530.2 1871.8,536.3 1873.0,530.6 1874.2,535.8 1875.5,531.4 1876.7,536.1 1877.9,530.7 1879.1,535.5 1880.3,530.0 1881.5,530.9 1882.7,535.6 1883.9,531.5 1885.2,532.0 1886.4,531.3 1887.6,536.3 1888.8,536.2 1890.0,531.4 1891.2,536.4 1892.4,537.7 1893.6,530.8 1894.8,537.6 1896.1,532.3 1897.3,538.3 1898.5,531.3 1899.7,537.8 1900.9,531.9 1902.1,538.3 1903.3,532.1 1904.5,537.5 1905.8,532.7 1907.0,537.9 1908.2,533.3 1909.4,538.2 1910.6,531.9 1911.8,538.9 1913.0,532.1 1914.2,537.2 1915.5,532.1 1916.7,533.3 1917.9,539.3 1919.1,532.9 1920.3,537.7 1921.5,532.6 1922.7,537.8 1923.9,532.8 1925.2,533.9 1926.4,537.8 1927.6,533.5 1928.8,539.8 1930.0,533.8 1931.2,537.9 1932.4,533.0 1933.6,538.0 1934.9,533.9 1936.1,534.4 1937.3,538.9 1938.5,533.8 1939.7,538.9 1940.9,533.9 1942.2,539.0 1943.4,534.1 1944.6,539.1 1945.8,533.9 1947.0,539.1 1948.2,535.1 1949.5,539.0 1950.7,534.7 1951.9,540.0 1953.1,533.8 1954.3,539.7 1955.5,535.3 1956.8,540.0 1958.0,533.6 1959.2,540.3 1960.4,535.4 1961.6,535.4 1962.8,541.3 1964.1,534.8 1965.3,539.8 1966.5,540.2 1967.7,535.0 1968.9,540.9 1970.1,541.4 1971.4,534.7 1972.6,540.6 1973.8,535.6 1975.0,541.0" fill="none" stroke="#FF0000" stroke-width="4.4" stroke-linejoin="round" stroke-linecap="round"/>
<polyline points="1092.5,589.1 1094.3,586.2 1096.2,584.0 1097.9,586.7 1099.5,590.5 1101.2,594.4 1103.1,585.9 1104.9,579.2 1107.4,514.9 1109.4,570.0 1111.1,421.7 1112.8,275.6 1115.3,463.0 1117.3,463.1 1120.1,562.3 1123.0,423.9 1125.2,481.2 1127.6,181.6 1129.8,532.4 1131.4,486.3 1133.0,439.2 1134.6,433.8 1136.2,430.0 1138.5,573.2 1140.3,562.4 1142.2,551.3 1144.1,544.6 1145.9,539.4 1148.4,584.1 1150.3,560.2 1152.2,534.5 1155.1,447.8 1156.8,505.9 1158.4,564.7 1159.9,525.2 1161.4,485.7 1162.9,448.4 1164.4,409.4 1167.3,565.1 1168.9,575.6 1170.4,585.4 1172.0,596.0 1173.6,591.7 1175.2,586.9 1176.7,584.2 1178.3,579.0 1180.5,595.1 1182.7,609.0 1184.4,602.1 1186.0,593.5 1187.7,583.2 1189.3,594.5 1191.0,607.0 1198.0,599.0 1199.8,610.4 1201.6,605.5 1202.9,612.0 1204.2,611.9 1205.5,609.8 1206.8,604.7 1208.1,609.7 1209.4,603.5 1210.9,611.2 1212.3,606.0 1213.8,611.5 1215.2,608.5 1216.7,613.7 1218.1,606.4 1219.5,603.7 1221.0,611.1 1222.3,603.1 1223.6,610.8 1224.9,602.2 1226.2,603.8 1227.4,608.4 1228.7,604.2 1230.0,609.4 1231.3,602.4 1232.6,608.4 1233.9,602.9 1235.2,609.1 1236.5,604.2 1237.8,604.4 1239.0,610.3 1240.3,602.6 1241.6,609.9 1242.9,604.8 1244.2,611.1 1245.5,602.1 1246.8,600.6 1248.1,606.6 1249.3,599.1 1250.6,605.7 1251.9,597.0 1253.1,603.8 1254.3,595.4 1255.6,600.8 1256.8,591.0 1258.0,598.5 1259.3,594.3 1260.5,599.4 1261.8,593.6 1263.0,600.5 1264.3,602.5 1265.5,597.6 1267.0,599.1 1268.4,587.4 1269.8,589.6 1271.3,577.5 1272.6,589.2 1273.9,589.3 1275.2,603.8 1276.7,595.6 1278.1,601.1 1279.5,592.7 1281.0,590.2 1282.3,579.0 1283.5,573.4 1284.8,554.9 1286.2,553.7 1287.7,541.4 1289.2,555.9 1290.6,575.6 1291.9,545.3 1293.2,526.6 1294.5,493.6 1296.0,547.4 1297.4,586.5 1298.6,589.6 1299.8,578.6 1301.1,580.8 1302.3,568.6 1303.6,581.4 1304.8,580.0 1306.1,591.9 1307.4,576.1 1308.7,575.5 1310.0,559.7 1311.3,571.0 1312.6,566.9 1313.9,571.2 1315.2,576.0 1316.4,589.0 1317.7,587.3 1319.0,579.6 1320.3,577.6 1321.6,563.0 1322.8,565.1 1324.0,555.5 1325.2,558.8 1326.4,547.9 1327.9,568.3 1329.4,577.1 1331.2,590.0 1332.9,590.4 1334.5,590.8 1336.1,582.4 1337.7,582.8 1339.2,567.1 1340.6,560.2 1341.9,553.4 1343.2,560.3 1344.5,552.7 1346.0,566.1 1347.4,567.0 1348.7,569.6 1350.0,562.5 1351.3,564.0 1353.2,580.2 1354.4,589.8 1355.7,585.9 1356.9,593.9 1358.1,591.0 1359.4,589.5 1360.8,596.1 1362.1,594.8 1363.5,589.4 1364.8,594.4 1366.1,588.5 1367.4,595.8 1368.7,590.7 1370.0,590.8 1371.3,589.7 1372.6,596.6 1373.9,598.6 1375.2,594.2 1376.4,595.0 1377.7,602.4 1379.0,597.2 1380.3,604.4 1381.8,596.5 1383.2,602.2 1384.6,593.3 1386.1,598.5 1387.5,582.3 1389.0,570.4 1390.2,579.8 1391.5,577.3 1392.7,586.6 1393.9,585.8 1395.3,594.9 1396.8,592.9 1398.4,589.1 1400.0,573.4 1401.6,569.5 1403.0,546.5 1404.5,531.0 1406.0,549.6 1407.4,554.1 1408.7,567.3 1410.0,566.2 1411.3,579.6 1412.6,586.8 1413.9,588.3 1415.2,604.0 1416.7,596.6 1418.1,602.9 1419.5,600.7 1421.0,594.9 1422.5,601.2 1423.9,595.7 1425.3,601.5 1426.8,596.1 1428.1,603.2 1429.4,595.7 1430.7,594.7 1431.9,600.6 1433.2,596.1 1434.5,602.4 1435.8,596.3 1437.1,602.9 1438.4,595.7 1439.7,601.6 1441.0,597.8 1442.3,602.8 1443.8,597.6 1445.2,602.8 1446.6,600.7 1448.1,595.5 1449.4,598.6 1450.6,595.6 1451.9,586.7 1453.2,591.2 1454.5,581.0 1455.8,586.0 1457.2,581.8 1458.7,591.2 1460.1,587.8 1461.6,595.0 1463.0,588.1 1464.5,591.9 1466.0,582.9 1467.4,586.6 1468.9,583.6 1470.3,584.4 1471.8,592.7 1473.2,586.6 1474.6,591.0 1476.0,591.0 1477.3,583.9 1478.7,581.0 1479.9,586.8 1481.2,582.1 1482.4,587.6 1483.7,582.4 1484.9,587.3 1486.2,581.9 1487.4,588.4 1488.7,592.2 1490.0,589.3 1491.3,598.9 1492.5,594.7 1493.7,598.9 1494.9,600.6 1496.2,596.3 1497.4,602.6 1498.6,596.1 1499.8,601.5 1501.0,597.8 1502.3,602.5 1503.6,601.5 1504.8,596.6 1506.1,601.3 1507.4,595.4 1508.7,602.3 1510.0,593.5 1511.3,601.0 1512.6,592.8 1513.8,600.3 1515.1,592.9 1516.4,598.3 1517.9,596.2 1519.3,602.0 1520.8,597.6 1522.3,606.5 1523.8,598.0 1525.2,600.8 1526.6,591.3 1528.1,594.5 1529.4,589.0 1530.7,591.8 1531.9,599.0 1533.2,594.9 1534.5,602.8 1535.8,597.3 1537.1,601.0 1538.4,601.1 1539.7,599.0 1540.9,594.2 1542.2,597.1 1543.5,591.4 1544.8,595.4 1546.1,588.6 1547.4,595.4 1548.7,588.4 1550.0,593.5 1551.3,587.1 1552.8,588.9 1554.2,591.9 1555.6,599.3 1557.1,594.8 1558.5,600.5 1560.0,592.0 1561.5,598.1 1562.9,591.8 1564.2,597.7 1565.5,592.3 1566.8,599.7 1568.0,596.1 1569.3,601.0 1570.6,596.7 1571.9,602.2 1573.2,598.7 1574.5,603.5 1575.8,599.2 1577.1,604.2 1578.4,598.7 1579.7,597.8 1581.0,603.9 1582.2,596.1 1583.5,603.6 1584.8,595.1 1586.1,602.0 1587.4,597.3 1588.7,602.9 1590.0,598.4 1591.3,605.2 1592.6,601.3 1593.9,607.7 1595.2,603.4 1596.5,602.2 1597.8,609.1 1599.0,604.3 1600.3,609.2 1601.6,603.8 1602.8,609.4 1604.0,604.9 1605.2,609.8 1606.4,610.5 1607.6,603.7 1608.8,603.1 1610.0,608.7 1611.2,601.1 1612.4,609.1 1613.6,602.3 1614.8,606.7 1616.1,599.0 1617.3,606.2 1618.5,598.3 1619.7,604.2 1620.9,599.4 1622.1,604.1 1623.3,598.8 1624.6,603.4 1625.8,604.7 1627.0,597.1 1628.2,602.4 1629.4,596.9 1630.9,600.8 1632.3,593.4 1633.8,593.4 1635.2,596.8 1636.5,591.8 1637.8,601.3 1639.1,597.3 1640.3,604.0 1641.6,599.5 1642.9,605.7 1644.1,600.4 1645.3,606.1 1646.5,597.4 1647.8,605.2 1649.0,596.7 1650.2,603.4 1651.4,595.5 1652.6,601.2 1654.0,595.6 1655.5,599.8 1657.0,592.8 1658.4,598.7 1660.1,587.9 1661.7,572.8 1663.5,589.0 1665.2,600.2 1666.8,592.1 1668.4,599.5 1670.0,593.0 1671.3,595.3 1672.6,596.1 1673.8,602.7 1675.1,600.3 1676.4,608.3 1677.7,609.2 1678.9,603.0 1680.1,607.6 1681.3,600.9 1682.6,600.6 1683.8,604.6 1685.0,597.3 1686.2,604.2 1687.4,597.6 1688.8,602.1 1690.1,593.6 1691.5,599.4 1692.8,592.2 1694.2,591.6 1695.6,598.7 1696.9,598.8 1698.3,595.6 1699.6,602.2 1701.0,597.7 1702.5,603.0 1703.9,595.4 1705.3,601.6 1706.8,593.8 1708.2,604.0 1709.7,597.7 1711.1,607.5 1712.6,602.8 1713.8,607.8 1715.0,603.3 1716.2,608.5 1717.4,601.1 1718.7,608.5 1719.9,600.7 1721.1,599.9 1722.3,608.2 1723.6,602.2 1724.9,606.8 1726.2,601.9 1727.4,608.9 1728.7,602.7 1730.0,608.6 1731.3,601.8 1732.6,608.1 1733.8,599.5 1735.1,601.2 1736.4,606.2 1737.7,599.8 1738.9,603.6 1740.1,595.8 1741.3,601.5 1742.6,594.5 1743.8,600.4 1745.0,593.5 1746.2,598.3 1747.4,591.3 1748.6,598.2 1749.8,592.7 1751.0,598.7 1752.2,599.3 1753.5,592.4 1754.7,599.8 1755.9,595.8 1757.1,600.8 1758.6,596.9 1760.1,603.4 1761.6,600.0 1762.9,606.2 1764.2,598.9 1765.5,604.4 1766.8,605.5 1768.0,600.0 1769.3,605.7 1770.6,598.6 1771.9,598.4 1773.2,603.8 1774.4,598.8 1775.6,607.4 1776.8,599.9 1778.1,609.2 1779.3,601.4 1780.5,610.1 1781.7,602.6 1782.9,605.4 1784.2,609.8 1785.5,604.3 1786.8,608.5 1788.1,603.0 1789.3,608.4 1790.6,609.3 1791.9,602.9 1793.2,608.6 1794.5,601.8 1795.8,608.7 1797.1,607.0 1798.4,602.9 1799.7,610.2 1801.0,603.3 1802.3,610.8 1803.6,610.7 1804.9,604.4 1806.2,608.5 1807.5,602.1 1808.7,608.8 1810.0,600.6 1811.3,606.4 1812.6,600.4 1813.9,605.5 1815.1,597.9 1816.4,604.6 1817.6,597.5 1818.8,604.3 1820.0,598.3 1821.3,602.7 1822.5,597.7 1823.7,604.7 1824.9,597.2 1826.2,604.4 1827.4,604.4 1828.6,597.6 1829.8,597.6 1831.0,603.0 1832.2,596.3 1833.5,596.3 1834.7,602.5 1835.9,595.7 1837.1,601.4 1838.3,594.7 1839.5,599.1 1840.7,594.5 1841.9,593.7 1843.2,599.5 1844.4,592.7 1845.6,598.1 1846.8,590.8 1848.0,596.7 1849.2,597.1 1850.4,596.4 1851.6,592.3 1852.9,597.4 1854.1,592.3 1855.3,597.3 1856.5,596.1 1857.7,592.1 1859.0,598.7 1860.3,594.0 1861.6,595.4 1862.9,602.1 1864.2,597.7 1865.5,604.1 1866.8,605.4 1868.1,599.4 1869.4,606.0 1870.7,601.0 1872.0,604.7 1873.2,599.3 1874.5,599.0 1875.8,603.8 1877.1,596.7 1878.4,602.5 1879.7,598.1 1881.0,603.0 1882.2,596.8 1883.5,601.6 1884.8,595.2 1886.0,601.9 1887.2,595.0 1888.5,600.3 1889.7,600.0 1890.9,593.6 1892.1,600.1 1893.3,593.8 1894.5,598.2 1895.8,597.6 1897.0,591.4 1898.2,592.5 1899.4,596.8 1900.6,591.6 1901.9,599.2 1903.1,592.4 1904.4,601.0 1905.6,595.9 1906.9,601.8 1908.1,598.1 1909.4,602.8 1910.7,601.9 1911.9,597.8 1913.2,596.2 1914.5,596.9 1915.8,602.9 1917.1,598.2 1918.4,602.5 1919.7,596.9 1920.9,595.7 1922.2,602.0 1923.5,597.9 1924.7,602.3 1926.0,603.9 1927.2,598.6 1928.4,605.7 1929.7,599.5 1930.9,606.3 1932.2,599.0 1933.4,600.2 1934.6,606.3 1935.9,601.6 1937.1,600.9 1938.3,608.3 1939.6,601.2 1940.8,608.1 1942.0,601.6 1943.2,608.1 1944.5,602.6 1945.7,608.8 1946.9,600.9 1948.1,607.7 1949.4,602.7 1950.6,609.8 1951.9,602.4 1953.2,609.4 1954.5,603.6 1955.8,610.1 1957.1,602.8 1958.3,610.1 1959.6,603.9 1960.9,602.9 1962.2,609.9 1963.5,609.5 1964.8,604.7 1966.1,605.6 1967.3,611.2 1968.5,605.5 1969.7,604.4 1970.9,603.2 1972.2,610.5 1973.4,603.6 1974.6,609.1 1975.8,602.4" fill="none" stroke="#0070C0" stroke-width="5.4" stroke-linejoin="round" stroke-linecap="round"/>
<rect x="1089" y="7.3" width="892.1" height="610.6" fill="none" stroke="#111" stroke-width="5.8"/>
<line x1="1088.3" y1="620.8" x2="1088.3" y2="626.8" stroke="#c8c8c8" stroke-width="1.2"/>
<text x="1088.3" y="662" font-size="26" text-anchor="middle">5</text>
<line x1="1215.8" y1="620.8" x2="1215.8" y2="626.8" stroke="#c8c8c8" stroke-width="1.2"/>
<text x="1215.8" y="662" font-size="26" text-anchor="middle">10</text>
<line x1="1343.2" y1="620.8" x2="1343.2" y2="626.8" stroke="#c8c8c8" stroke-width="1.2"/>
<text x="1343.2" y="662" font-size="26" text-anchor="middle">15</text>
<line x1="1470.7" y1="620.8" x2="1470.7" y2="626.8" stroke="#c8c8c8" stroke-width="1.2"/>
<text x="1470.7" y="662" font-size="26" text-anchor="middle">20</text>
<line x1="1598.1" y1="620.8" x2="1598.1" y2="626.8" stroke="#c8c8c8" stroke-width="1.2"/>
<text x="1598.1" y="662" font-size="26" text-anchor="middle">25</text>
<line x1="1725.5" y1="620.8" x2="1725.5" y2="626.8" stroke="#c8c8c8" stroke-width="1.2"/>
<text x="1725.5" y="662" font-size="26" text-anchor="middle">30</text>
<line x1="1853.0" y1="620.8" x2="1853.0" y2="626.8" stroke="#c8c8c8" stroke-width="1.2"/>
<text x="1853.0" y="662" font-size="26" text-anchor="middle">35</text>
<line x1="1980.4" y1="620.8" x2="1980.4" y2="626.8" stroke="#c8c8c8" stroke-width="1.2"/>
<text x="1980.4" y="662" font-size="26" text-anchor="middle">40</text>
<text x="1104" y="57" font-size="51">b)</text>
<text x="1465.3" y="713.6" font-size="29.5" textLength="148.6" lengthAdjust="spacingAndGlyphs">2<tspan font-size="23">θ</tspan> (degree)</text>
<text transform="translate(1061,411.4) rotate(-90)" x="0" y="0" font-size="27" textLength="193" lengthAdjust="spacingAndGlyphs">Intensity (a.u.)</text>
<text x="1596.3" y="133.8" font-size="27" textLength="154.2" lengthAdjust="spacingAndGlyphs">Pristine PAN</text>
<text x="1596.3" y="166.9" font-size="27" textLength="215.4" lengthAdjust="spacingAndGlyphs">NH<tspan font-size="17" dy="4">2</tspan><tspan dy="-4">-MIL-101(Cr)</tspan></text>
<text x="1596.3" y="201.2" font-size="27" textLength="197.1" lengthAdjust="spacingAndGlyphs">PAN@MIL-NH<tspan font-size="17" dy="4">2</tspan></text>
<line x1="1839.3" y1="118.9" x2="1942.4" y2="118.9" stroke="#FF0000" stroke-width="6"/>
<line x1="1844.4" y1="157.9" x2="1946.5" y2="159.5" stroke="#0070C0" stroke-width="6"/>
<line x1="1845.4" y1="198.5" x2="1946.5" y2="198.5" stroke="#000" stroke-width="6"/>
</svg>
</body></html>
